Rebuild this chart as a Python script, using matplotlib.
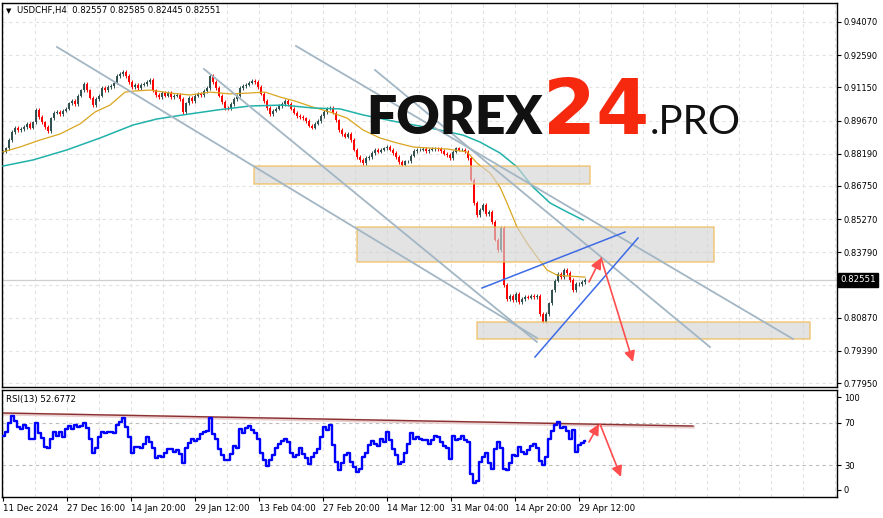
import numpy as np
import matplotlib.pyplot as plt
from matplotlib.patches import Rectangle
from matplotlib.transforms import blended_transform_factory

# USDCHF H4 closes, one value per 3-pixel column of the chart
closes = [
    0.8827, 0.8844, 0.8880, 0.8916, 0.8934, 0.8925, 0.8929, 0.8938, 0.8952, 0.8934,
    0.8960, 0.9014, 0.8983, 0.8960, 0.8938, 0.8920, 0.8978, 0.9001, 0.9005, 0.8996,
    0.9010, 0.9019, 0.9045, 0.9054, 0.9041, 0.9077, 0.9103, 0.9130, 0.9103, 0.9068,
    0.9036, 0.9063, 0.9077, 0.9112, 0.9103, 0.9117, 0.9121, 0.9135, 0.9166, 0.9175,
    0.9184, 0.9166, 0.9139, 0.9117, 0.9126, 0.9112, 0.9126, 0.9130, 0.9139, 0.9148,
    0.9103, 0.9081, 0.9072, 0.9090, 0.9077, 0.9090, 0.9072, 0.9077, 0.9081, 0.9063,
    0.9005, 0.9045, 0.9068, 0.9054, 0.9077, 0.9086, 0.9081, 0.9099, 0.9112, 0.9166,
    0.9139, 0.9112, 0.9077, 0.9050, 0.9023, 0.9019, 0.9041, 0.9063, 0.9077, 0.9112,
    0.9121, 0.9126, 0.9135, 0.9144, 0.9139, 0.9117, 0.9086, 0.9054, 0.9023, 0.8996,
    0.9010, 0.9019, 0.9032, 0.9041, 0.9054, 0.9041, 0.9019, 0.9001, 0.8987, 0.8983,
    0.8978, 0.8965, 0.8943, 0.8934, 0.8952, 0.8965, 0.8987, 0.9005, 0.9019, 0.9023,
    0.9001, 0.8969, 0.8925, 0.8907, 0.8894, 0.8907, 0.8880, 0.8836, 0.8804, 0.8791,
    0.8777, 0.8800, 0.8804, 0.8822, 0.8836, 0.8827, 0.8836, 0.8844, 0.8849, 0.8836,
    0.8822, 0.8804, 0.8782, 0.8769, 0.8786, 0.8786, 0.8809, 0.8831, 0.8836, 0.8836,
    0.8840, 0.8831, 0.8836, 0.8840, 0.8844, 0.8840, 0.8831, 0.8818, 0.8813, 0.8800,
    0.8827, 0.8844, 0.8836, 0.8836, 0.8827, 0.8800, 0.8702, 0.8599, 0.8545, 0.8568,
    0.8590, 0.8550, 0.8559, 0.8514, 0.8434, 0.8389, 0.8487, 0.8233, 0.8170, 0.8184,
    0.8166, 0.8193, 0.8157, 0.8170, 0.8179, 0.8175, 0.8184, 0.8179, 0.8184, 0.8103,
    0.8068, 0.8103, 0.8152, 0.8210, 0.8251, 0.8282, 0.8268, 0.8300, 0.8286, 0.8255,
    0.8210, 0.8237, 0.8237, 0.8246, 0.8255,
]

rsi = [
    58, 61, 70, 76, 72, 66, 64, 68, 65, 55, 55, 70, 60, 56, 47, 46, 55, 61, 58, 61,
    57, 64, 67, 64, 68, 66, 67, 70, 65, 55, 42, 46, 57, 61, 60, 61, 61, 60, 68, 71,
    74, 66, 57, 42, 47, 47, 46, 50, 57, 52, 46, 37, 39, 38, 42, 45, 45, 43, 44, 41,
    32, 46, 51, 55, 53, 55, 59, 61, 62, 74, 59, 55, 45, 40, 35, 35, 41, 48, 46, 64,
    60, 65, 67, 63, 60, 55, 42, 35, 29, 35, 40, 46, 50, 53, 55, 52, 42, 38, 40, 46,
    41, 37, 31, 38, 42, 45, 57, 66, 63, 68, 49, 33, 26, 32, 40, 42, 33, 28, 24, 27,
    38, 42, 49, 53, 50, 48, 55, 52, 61, 54, 45, 40, 31, 33, 42, 50, 60, 55, 57, 55,
    54, 54, 50, 54, 58, 57, 52, 48, 46, 36, 58, 54, 55, 58, 54, 52, 22, 13, 15, 33,
    38, 42, 32, 27, 45, 52, 46, 27, 26, 32, 40, 39, 47, 43, 41, 44, 48, 50, 46, 34,
    30, 38, 55, 62, 68, 71, 65, 66, 62, 55, 63, 43, 49, 51, 52.68,
]

# moving averages (column position, price)
fast_ma_pos = [3, 20, 40, 60, 80, 95, 110, 125, 135, 150, 170, 190, 210, 230, 250, 265,
               280, 295, 313, 330, 347, 363, 380, 397, 413, 430, 447, 467, 477, 490,
               500, 507, 517, 527, 537, 547, 557, 567, 585]
fast_ma = [0.8827, 0.8849, 0.8880, 0.8907, 0.8952, 0.9005, 0.9036, 0.9094, 0.9099, 0.9103,
           0.9090, 0.9081, 0.9094, 0.9086, 0.9090, 0.9094, 0.9072, 0.9054, 0.9027, 0.9005,
           0.8978, 0.8925, 0.8889, 0.8867, 0.8849, 0.8844, 0.8840, 0.8827, 0.8777, 0.8733,
           0.8670, 0.8599, 0.8492, 0.8420, 0.8358, 0.8300, 0.8277, 0.8273, 0.8268]
slow_ma_pos = [3, 33, 67, 100, 133, 157, 183, 217, 250, 283, 313, 340, 363, 397, 430,
               463, 480, 500, 517, 533, 550, 567, 583]
slow_ma = [0.8764, 0.8791, 0.8836, 0.8889, 0.8947, 0.8974, 0.8992, 0.9014, 0.9032, 0.9036,
           0.9023, 0.9019, 0.8992, 0.8961, 0.8934, 0.8902, 0.8871, 0.8822, 0.8760, 0.8670,
           0.8599, 0.8559, 0.8523]

# analysis drawings
zones = [  # start col, end col, low, high
    (254, 590, 0.86836, 0.87640),
    (357, 714, 0.83354, 0.84916),
    (477, 810, 0.79916, 0.80675),
]
channel_lines = [
    ((57, 0.92954), (537, 0.79960)),
    ((204, 0.91971), (537, 0.79782)),
    ((375, 0.91927), (710, 0.79558)),
    ((296, 0.92998), (793, 0.79916)),
]
wedge_lines = [
    ((482, 0.82193), (625, 0.84693)),
    ((535, 0.79112), (638, 0.84425)),
]
price_arrows = [
    ((589, 0.82461), (601, 0.83532)),
    ((601, 0.83532), (633, 0.78889)),
]
rsi_trend = ((0, 79.2), (693, 66.9))
rsi_arrows = [
    ((589, 51.9), (599, 68.8)),
    ((600, 68.8), (621, 19.1)),
]

price_ticks = [0.94070, 0.92590, 0.91150, 0.89670, 0.88190, 0.86750, 0.85270,
               0.83790, 0.82330, 0.80870, 0.79390, 0.77950]
time_labels = ['11 Dec 2024', '27 Dec 16:00', '14 Jan 20:00', '29 Jan 12:00',
               '13 Feb 04:00', '27 Feb 20:00', '14 Mar 12:00', '31 Mar 04:00',
               '14 Apr 20:00', '29 Apr 12:00']
last_price = 0.82551

W, H = 883, 518
wick_pad = 0.0007


def rect(l, t, r, b):
    return [l / W, 1 - b / H, (r - l) / W, (b - t) / H]


fig = plt.figure(figsize=(W / 100, H / 100), dpi=100)
ax = fig.add_axes(rect(2, 3, 837, 387))
ax2 = fig.add_axes(rect(2, 390, 837, 497))

grid_kw = dict(color='#E2E2E2', lw=0.8, ls=(0, (3, 3)), zorder=0)
for a in (ax, ax2):
    a.set_xlim(2, 837)
    for gx in range(3, 837, 32):
        a.axvline(gx, **grid_kw)
    for s in a.spines.values():
        s.set_linewidth(1.0)
        s.set_color('black')

ax.set_ylim(0.77773, 0.94918)
for p in price_ticks:
    ax.axhline(p, **grid_kw)
ax.axhline(last_price, color='#CFCFCF', lw=0.9, zorder=0.5)

# candles
c = np.array(closes)
o = np.r_[c[0], c[:-1]]
bx = 3 + 3 * np.arange(len(c))
up = c >= o
hi = np.maximum(o, c) + wick_pad
lo = np.minimum(o, c) - wick_pad
for m, col in ((up, '#2F4F4F'), (~up, '#FF0000')):
    ax.vlines(bx[m], lo[m], hi[m], color=col, lw=0.7, zorder=2)
    ax.vlines(bx[m], o[m], c[m], color=col, lw=1.4, zorder=2)

ax.plot(fast_ma_pos, fast_ma, color='#DAA520', lw=0.9, zorder=3)
ax.plot(slow_ma_pos, slow_ma, color='#20B2AA', lw=1.1, zorder=3)

for x0, x1, zlo, zhi in zones:
    ax.add_patch(Rectangle((x0, zlo), x1 - x0, zhi - zlo, facecolor='#D4D4D4', alpha=0.65,
                           edgecolor='#F0B84A', lw=1.2, zorder=4))

for (x0, y0), (x1, y1) in channel_lines:
    ax.plot([x0, x1], [y0, y1], color='#A3B6C4', lw=1.3, zorder=5)
for (x0, y0), (x1, y1) in wedge_lines:
    ax.plot([x0, x1], [y0, y1], color='#3D6BE6', lw=1.1, zorder=5)

arrow_kw = dict(arrowstyle='-|>', color='#FF4D4D', lw=1.2, mutation_scale=16,
                shrinkA=0, shrinkB=0)
for start, end in price_arrows:
    ax.annotate('', xy=end, xytext=start, arrowprops=arrow_kw, zorder=6)

# right price scale; the 0.82330 label sits behind the last-price tag
ax.yaxis.tick_right()
ax.set_yticks(price_ticks)
ax.set_yticklabels(['' if abs(p - last_price) < 0.003 else f'{p:.5f}' for p in price_ticks])
ax.tick_params(axis='y', length=3, width=0.8, pad=2, labelsize=6, direction='out')
ax.set_xticks([])

tr = blended_transform_factory(ax.transAxes, ax.transData)
ax.text(1.004, last_price, f'{last_price:.5f}', transform=tr, color='white', fontsize=6.2,
        va='center', ha='left', clip_on=False, zorder=10,
        bbox=dict(boxstyle='square,pad=0.25', fc='black', ec='black'))

# RSI panel
ax2.set_ylim(0.28, 100.75)
for lvl in (70, 30):
    ax2.axhline(lvl, color='#BDBDBD', lw=0.8, ls=(0, (3, 3)), zorder=0.5)
(tx0, ty0), (tx1, ty1) = rsi_trend
ax2.plot([tx0, tx1], [ty0 - 0.8, ty1 - 0.8], color='#E9CFCF', lw=2.5, zorder=2)
ax2.plot([tx0, tx1], [ty0, ty1], color='#8B3030', lw=1.0, zorder=2)
rx = 3 + 3 * np.arange(len(rsi))
ax2.plot(rx, rsi, color='#0000FF', lw=1.7, drawstyle='steps-mid', zorder=3)
for start, end in rsi_arrows:
    ax2.annotate('', xy=end, xytext=start, arrowprops=arrow_kw, zorder=6)

ax2.yaxis.tick_right()
ax2.set_yticks([94, 70, 30, 7])
ax2.set_yticklabels(['100', '70', '30', '0'])
ax2.tick_params(axis='y', length=3, width=0.8, pad=2, labelsize=6)
ax2.set_xticks(3 + 64 * np.arange(len(time_labels)))
ax2.set_xticklabels(time_labels, ha='left')
ax2.tick_params(axis='x', length=3, width=0.8, pad=2, labelsize=6.2)

ax2.text(4 / 835, 0.915, 'RSI(13) 52.6772', transform=ax2.transAxes, fontsize=6.2,
         va='center', ha='left')

# header
fig.text(6 / W, 1 - 11 / H, '\u25bc', fontsize=5, va='center', ha='left')
fig.text(17 / W, 1 - 11 / H, 'USDCHF,H4  0.82557 0.82585 0.82445 0.82551',
         fontsize=6.1, va='center', ha='left')

# watermark logo
fig.text(366 / W, 1 - 134 / H, 'FOREX', family=['Lato', 'DejaVu Sans'], fontweight='heavy',
         fontsize=38.5, color='#111111', va='baseline', ha='left', zorder=8)
fig.text(543 / W, 1 - 134 / H, '24', family='DejaVu Sans', fontweight='bold',
         fontsize=55, color='#F6290F', va='baseline', ha='left', zorder=8)
fig.text(650 / W, 1 - 134 / H, '.PRO', family=['Lato', 'DejaVu Sans'], fontweight='normal',
         fontsize=29, color='#111111', va='baseline', ha='left', zorder=8)

fig.savefig('out.png', dpi=100, facecolor='white')
